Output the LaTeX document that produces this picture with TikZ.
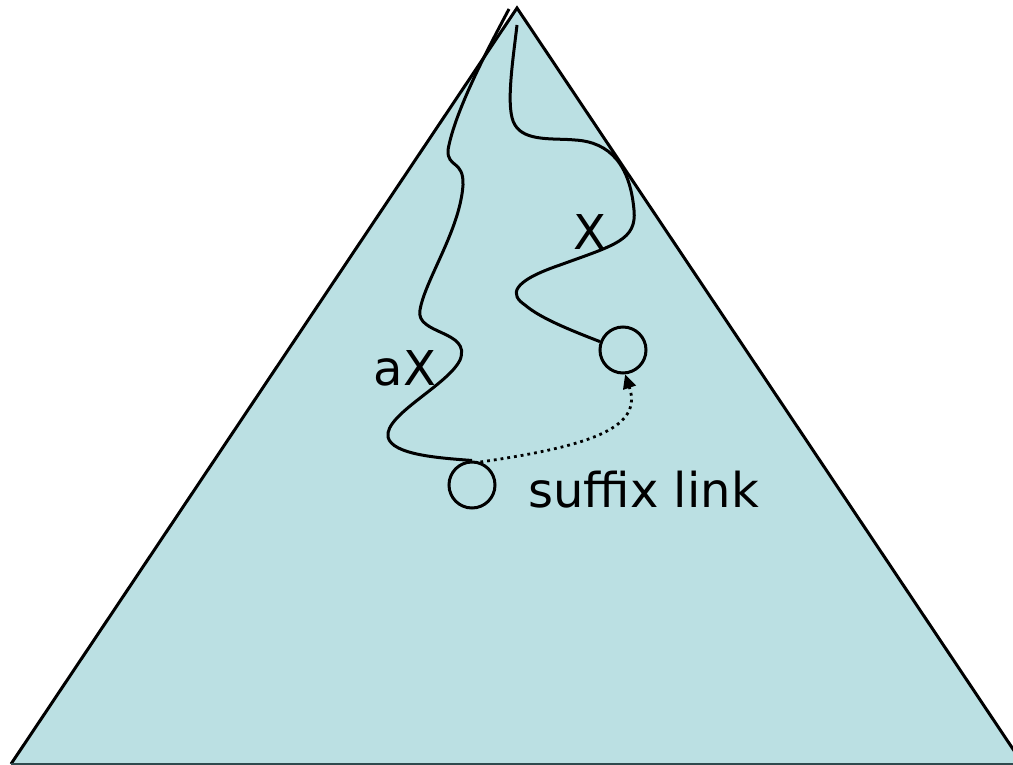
\documentclass[tikz,border=0pt]{standalone}
\usepackage{fontspec}
\setmainfont{DejaVu Sans}
\usepackage{xcolor}
\usepackage{tikz}
\usetikzlibrary{arrows.meta, positioning}
\definecolor{treeblue}{HTML}{BBE0E3}
\definecolor{basegrey}{HTML}{2F4A4E}

\begin{document}
\begin{tikzpicture}[x=0.5pt, y=-0.5pt,
  vtx/.style={draw=black, line width=1.5pt, circle, minimum size=23pt, inner sep=0pt},
  wiggle/.style={draw=black, line width=1.5pt},
  link/.style={-{Triangle[length=7pt, width=6.5pt]}, dotted, line width=1.4pt},
  lbl/.style={font=\fontsize{24}{28}\selectfont, inner sep=0pt}]
  \useasboundingbox (0,0) rectangle (1013,765);
  % the tree
  \fill[treeblue] (517,8) -- (11,764) -- (1023,764) -- cycle;
  \draw[line width=1.5pt, line join=miter] (11,764) -- (517,8) -- (1023,764);
  \draw[basegrey, line width=1.5pt] (11,764) -- (1023,764);
  % nodes
  \node[vtx] (low) at (472,485) {};
  \node[vtx] (up) at (623,350) {};
  \coordinate (aXtop) at (509,9);
  \coordinate (Xtop) at (517,25);
  % paths from the root
  \draw[wiggle] (aXtop) .. controls (490,45) and (455,110) .. (448,150)
    .. controls (447,168) and (464,160) .. (463,185)
    .. controls (460,230) and (425,280) .. (420,310)
    .. controls (415,335) and (472,330) .. (460,360)
    .. controls (448,385) and (384,415) .. (388,437)
    .. controls (392,455) and (440,458) .. (low.north);
  \draw[wiggle] (Xtop) .. controls (513,60) and (505,110) .. (515,125)
    .. controls (525,142) and (555,138) .. (575,140)
    .. controls (610,142) and (630,165) .. (634,210)
    .. controls (637,240) and (615,245) .. (560,265)
    .. controls (510,282) and (510,295) .. (525,305)
    .. controls (540,318) and (570,330) .. (up.160);
  % suffix link
  \draw[link] (low.70) .. controls (600,445) and (642,425) .. (up.-85);
  % labels
  \node[lbl] (xlbl) at (590,232) {X};
  \node[lbl] (axlbl) at (405,368) {aX};
  \node[lbl, anchor=west] (sflbl) at (528,490) {suffix link};
\end{tikzpicture}
\end{document}
